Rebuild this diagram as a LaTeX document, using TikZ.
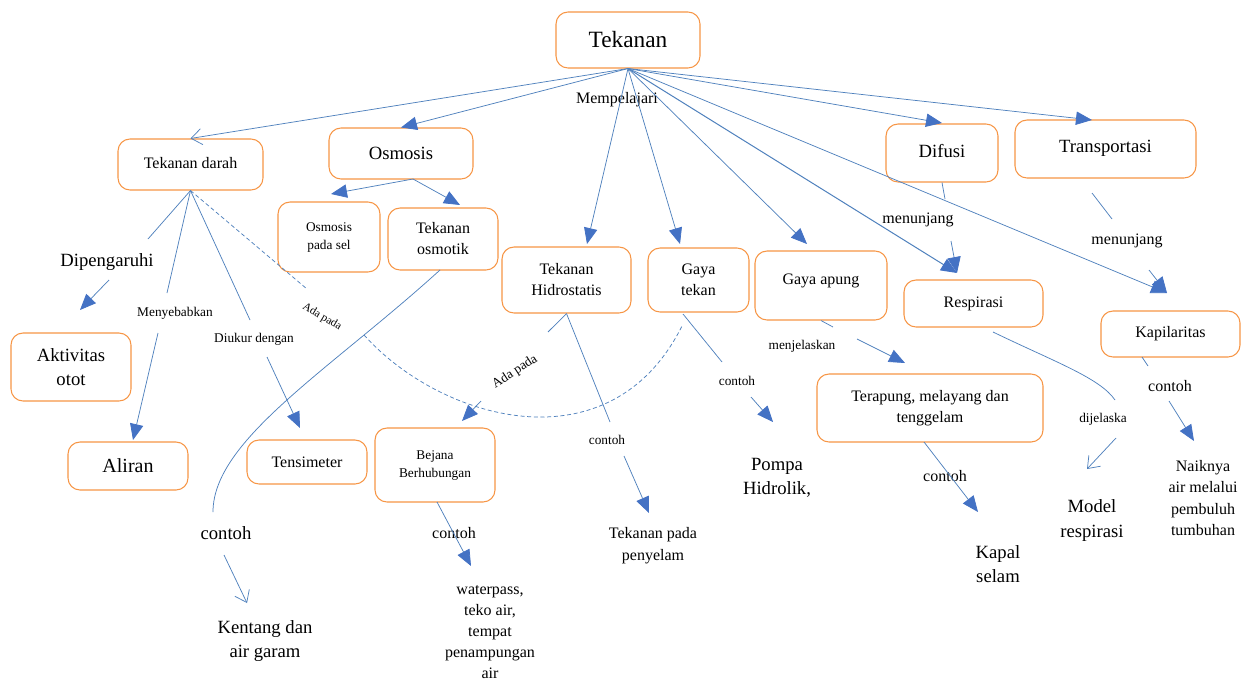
\documentclass[tikz,border=0pt]{standalone}
\usepackage{fontspec}
\setmainfont{Liberation Serif}
\usetikzlibrary{arrows.meta,calc}
\definecolor{bor}{RGB}{247,150,70}
\definecolor{lnc}{RGB}{79,129,189}
\definecolor{arc}{RGB}{68,114,196}
\tikzset{
  box/.style={draw=bor, line width=0.8pt, rounded corners=9pt, inner sep=0pt, align=center},
  sz/.style 2 args={minimum width=#1*0.75pt, minimum height=#2*0.75pt},
  f8/.style={font=\fontsize{8.5}{10}\selectfont},
  f10/.style={font=\fontsize{10}{13}\selectfont},
  f12/.style={font=\fontsize{12}{15.75}\selectfont},
  f14/.style={font=\fontsize{14}{18.5}\selectfont},
  f15/.style={font=\fontsize{15}{18}\selectfont},
  f17/.style={font=\fontsize{17.5}{20}\selectfont},
  lbl/.style={inner sep=1pt, align=center},
  ln/.style={draw=lnc, line width=0.55pt},
  tri/.style={-{Triangle[length=12pt,width=10pt,color=arc]}},
  opn/.style={-{Straight Barb[length=8pt,width=12pt]}},
}
\begin{document}
\begin{tikzpicture}[x=0.75pt,y=-0.75pt]
\fill[white] (0,0) rectangle (1246,682);
\useasboundingbox (0,0) rectangle (1246,682);

% ---------- boxes ----------
\node[box,f17,sz={144}{56}] (T) at (628,40) {Tekanan};
\node[box,f12,sz={145}{51}] (TD) at (190.5,164.5) {\raisebox{2.6pt}{Tekanan darah}};
\node[box,f14,sz={144}{51}] (OS) at (401,153.5) {Osmosis};
\node[box,f10,sz={102}{70}] (OPS) at (329,237) {\raisebox{3pt}{\begin{tabular}{@{}c@{}}Osmosis\\pada sel\end{tabular}}};
\node[box,f12,sz={110}{62}] (TO) at (443,239) {Tekanan\\osmotik};
\node[box,f12,sz={129}{66}] (TH) at (566.5,280) {Tekanan\\Hidrostatis};
\node[box,f12,sz={101}{64}] (GT) at (698.5,280) {Gaya\\tekan};
\node[box,f12,sz={132}{69}] (GA) at (821,285.5) {\raisebox{10pt}{Gaya apung}};
\node[box,f14,sz={112}{58}] (D) at (942,153) {\raisebox{3.7pt}{Difusi}};
\node[box,f14,sz={181}{58}] (TR) at (1105.5,149) {\raisebox{4.5pt}{Transportasi}};
\node[box,f12,sz={139}{47}] (R) at (973.5,303.5) {Respirasi};
\node[box,f12,sz={139}{46}] (K) at (1170.5,334) {Kapilaritas};
\node[box,f12,sz={226}{68}] (TMT) at (930,408) {Terapung, melayang dan\\tenggelam};
\node[box,f14,sz={120}{68}] (AO) at (71,367) {Aktivitas\\otot};
\node[box,f15,sz={120}{48}] (AL) at (128,466) {Aliran};
\node[box,f12,sz={120}{44}] (TS) at (307,462) {Tensimeter};
\node[box,f10,sz={120}{74}] (BB) at (435,465) {\raisebox{5pt}{\begin{tabular}{@{}c@{}}Bejana\\Berhubungan\end{tabular}}};

% ---------- text nodes ----------
\node[lbl,f12] (mem) at (617,100) {Mempelajari};
\node[lbl,f14] (dip) at (107,262) {Dipengaruhi};
\node[lbl,f10] (men) at (175,313) {Menyebabkan};
\node[lbl,f10] (diu) at (254,339) {Diukur dengan};
\node[lbl,f8,rotate=-31] (ada1) at (322,317) {Ada pada};
\node[lbl,f10,rotate=33] (ada2) at (515,372) {Ada pada};
\node[lbl,f14] (cto) at (226,533) {contoh};
\node[lbl,font=\fontsize{14}{17.5}\selectfont] (ken) at (265,641) {Kentang dan\\air garam};
\node[lbl,f12] (cbb) at (454,533) {contoh};
\node[lbl,font=\fontsize{12}{15.75}\selectfont,anchor=north] (wat) at (490,584) {waterpass,\\teko air,\\tempat\\penampungan\\air};
\node[lbl,f10] (cth) at (607,440) {contoh};
\node[lbl,font=\fontsize{12}{16.5}\selectfont] (pen) at (653,546) {Tekanan pada\\penyelam};
\node[lbl,f10] (cgt) at (737,381) {contoh};
\node[lbl,font=\fontsize{14}{18}\selectfont] (pom) at (777,478) {Pompa\\Hidrolik,};
\node[lbl,f10] (mj) at (802,346) {menjelaskan};
\node[lbl,f12] (ctm) at (945,476) {contoh};
\node[lbl,font=\fontsize{14}{18}\selectfont] (kap) at (998,564) {Kapal\\selam};
\node[lbl,f12] (mn1) at (918,220) {menunjang};
\node[lbl,f12] (mn2) at (1127,241) {menunjang};
\node[lbl,f10] (dj) at (1103,419) {dijelaska};
\node[lbl,font=\fontsize{14}{18.75}\selectfont] (mod) at (1092,521) {Model\\respirasi};
\node[lbl,f12] (ck) at (1170,386) {contoh};
\node[lbl,font=\fontsize{12}{15.9}\selectfont] (nai) at (1203,498) {Naiknya\\air melalui\\pembuluh\\tumbuhan};

% ---------- free ends ----------
\coordinate (thTip) at (587,244);
\coordinate (gtTip) at (680,244);
\coordinate (gaTip) at (807,244);
\coordinate (dTip) at (942,123);
\coordinate (trTip) at (1092,120);
\coordinate (rTip) at (957,273);
\coordinate (kTip) at (1167,293);
\coordinate (osB) at (413,179);
\coordinate (opsT) at (331,194);
\coordinate (toT) at (460,205);
\coordinate (dipA) at (148,239);
\coordinate (dipB) at (109,280);
\coordinate (aoT) at (80,310);
\coordinate (menA) at (167,293);
\coordinate (menB) at (158,333);
\coordinate (alT) at (133,440);
\coordinate (diuA) at (250,320);
\coordinate (diuB) at (267,357);
\coordinate (tsT) at (300,428);
\coordinate (adaA) at (307,289);
\coordinate (adaB) at (364,335);
\coordinate (gtB) at (682,326);
\coordinate (toS) at (440,270);
\coordinate (ctoA) at (213,512);
\coordinate (ctoB) at (224,555);
\coordinate (kenT) at (247,603);
\coordinate (bbS) at (437,502);
\coordinate (watT) at (471,566);
\coordinate (ad2A) at (548,332);
\coordinate (ad2B) at (481,401);
\coordinate (bbT) at (462,421);
\coordinate (cthA) at (610,422);
\coordinate (cthB) at (624,456);
\coordinate (penT) at (649,513);
\coordinate (gtS) at (683,314);
\coordinate (cgtA) at (722,362);
\coordinate (cgtB) at (751,397);
\coordinate (pomT) at (773,422);
\coordinate (mjA) at (833,327);
\coordinate (mjB) at (857,339);
\coordinate (tmtT) at (905,363);
\coordinate (tmtS) at (924,442);
\coordinate (kapT) at (978,512);
\coordinate (mn1A) at (945,199);
\coordinate (mn1B) at (951,241);
\coordinate (trS) at (1092,193);
\coordinate (mn2A) at (1112,219);
\coordinate (mn2B) at (1149,270);
\coordinate (rS) at (993,332);
\coordinate (djA) at (1115,400);
\coordinate (djB) at (1116,438);
\coordinate (modT) at (1087,469);
\coordinate (kS) at (1142,357);
\coordinate (ckA) at (1148,366);
\coordinate (ckB) at (1169,401);
\coordinate (naiT) at (1194,441);

% ---------- connectors from Tekanan ----------
\draw[ln,opn] (T.south) -- (TD.north);
\draw[ln,tri] (T.south) -- (OS.north);
\draw[ln,tri] (T.south) -- (thTip);
\draw[ln,tri] (T.south) -- (gtTip);
\draw[ln,tri] (T.south) -- (gaTip);
\draw[ln,tri] (T.south) -- (dTip);
\draw[ln,tri] (T.south) -- (trTip);
\draw[ln,tri,line width=0.75pt] (T.south) -- (rTip);
\draw[ln,tri] (T.south) -- (kTip);

% Osmosis
\draw[ln,tri] (osB) -- (opsT);
\draw[ln,tri] (osB) -- (toT);

% Tekanan darah
\draw[ln] (TD.south) -- (dipA);
\draw[ln,tri] (dipB) -- (aoT);
\draw[ln] (TD.south) -- (menA);
\draw[ln,tri] (menB) -- (alT);
\draw[ln] (TD.south) -- (diuA);
\draw[ln,tri] (diuB) -- (tsT);
\draw[ln,densely dashed] (TD.south) -- (adaA);
\draw[ln,densely dashed] (adaB) .. controls (440,420) and (610,470) .. (gtB);

% Tekanan osmotik
\draw[ln] (toS) .. controls (330,370) and (213,440) .. (ctoA);
\draw[ln,opn] (ctoB) -- (kenT);

% Bejana
\draw[ln,tri] (bbS) -- (watT);

% Hidrostatis
\draw[ln] (TH.south) -- (ad2A);
\draw[ln,tri] (ad2B) -- (bbT);
\draw[ln] (TH.south) -- (cthA);
\draw[ln,tri] (cthB) -- (penT);

% Gaya tekan
\draw[ln] (gtS) -- (cgtA);
\draw[ln,tri] (cgtB) -- (pomT);

% Gaya apung
\draw[ln] (GA.south) -- (mjA);
\draw[ln,tri] (mjB) -- (tmtT);

% Terapung
\draw[ln,tri] (tmtS) -- (kapT);

% Difusi
\draw[ln] (D.south) -- (mn1A);
\draw[ln,tri] (mn1B) -- (rTip);

% Transportasi
\draw[ln] (trS) -- (mn2A);
\draw[ln,tri] (mn2B) -- (kTip);

% Respirasi
\draw[ln] (rS) .. controls (1055,362) and (1100,378) .. (djA);
\draw[ln,opn] (djB) -- (modT);

% Kapilaritas
\draw[ln] (kS) -- (ckA);
\draw[ln,tri] (ckB) -- (naiT);
\end{tikzpicture}
\end{document}
